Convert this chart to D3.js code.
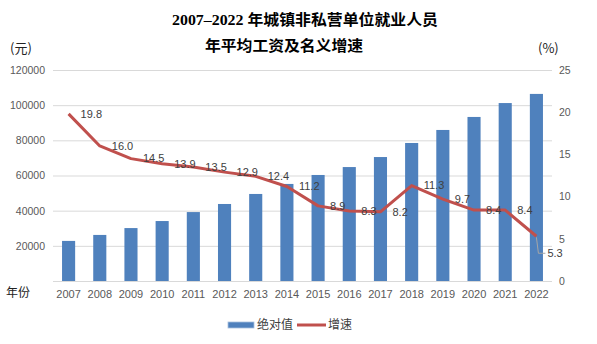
<!DOCTYPE html>
<html>
<head>
<meta charset="utf-8">
<script src="https://cdn.jsdelivr.net/npm/d3@7"></script>
<style>
  body { margin: 0; background: #fff; }
  svg { display: block; font-family: "Noto Sans CJK SC", "Liberation Sans", sans-serif; }
</style>
</head>
<body>
<div id="chart"></div>
<script>
//
// DATA
//
const years = ['2007', '2008', '2009', '2010', '2011', '2012', '2013', '2014',
    '2015', '2016', '2017', '2018', '2019', '2020', '2021', '2022']
// average wage (yuan)
const wages = [22800, 26200, 30100, 34100, 39200, 43800, 49500, 55200,
    60300, 64800, 70500, 78500, 85900, 93300, 101200, 106400]
// nominal growth (%)
const growth = [19.8, 16.0, 14.5, 13.9, 13.5, 12.9, 12.4, 11.2,
    8.9, 8.3, 8.2, 11.3, 9.7, 8.4, 8.4, 5.3]
const leftTicks = [0, 20000, 40000, 60000, 80000, 100000, 120000]
const rightTicks = [0, 5, 10, 15, 20, 25]

//
// GLOBALS
//
const width = 597
const height = 344
const plot = { left: 53, right: 552, top: 70, bottom: 281 }
const barColor = '#4F81BD'
const lineColor = '#C0504D'
const axisColor = '#595959'

const svg = d3.select('#chart').append('svg')
    .attr('width', width)
    .attr('height', height)

// scales
const x = d3.scaleBand()
    .domain(years)
    .range([plot.left, plot.right])
    .paddingInner(0.58)
    .paddingOuter(0.29)
const yLeft = d3.scaleLinear().domain([0, 120000]).range([plot.bottom, plot.top])
const yRight = d3.scaleLinear().domain([0, 25]).range([plot.bottom, plot.top])

// title (two lines)
const title = svg.append('g')
    .style('font-family', '"Liberation Serif", "Noto Sans CJK SC", serif')
    .style('font-weight', 'bold')
    .style('font-size', '15px')
    .attr('fill', '#000')
title.append('text')
    .attr('x', 172).attr('y', 25)
    .attr('textLength', 266).attr('lengthAdjust', 'spacingAndGlyphs')
    .text('2007–2022 年城镇非私营单位就业人员')
title.append('text')
    .attr('x', 205).attr('y', 51)
    .attr('textLength', 158).attr('lengthAdjust', 'spacingAndGlyphs')
    .text('年平均工资及名义增速')

// unit labels
svg.append('text').attr('x', 10).attr('y', 53)
    .style('font-size', '13px').attr('fill', '#222').text('(元)')
svg.append('text').attr('x', 538).attr('y', 53)
    .style('font-size', '13px').attr('fill', '#222').text('(%)')
svg.append('text').attr('x', 6).attr('y', 297)
    .style('font-size', '12px').attr('fill', '#222').text('年份')

// gridlines
svg.append('g').selectAll('line')
    .data(leftTicks)
    .join('line')
    .attr('x1', plot.left).attr('x2', plot.right)
    .attr('y1', d => yLeft(d) + 0.5).attr('y2', d => yLeft(d) + 0.5)
    .attr('stroke', '#D9D9D9')
    .attr('stroke-width', 1)

// axes
const styleAxis = (g) => {
    g.select('.domain').remove()
    g.selectAll('text')
        .style('font-family', '"Liberation Sans", sans-serif')
        .style('font-size', '10.5px')
        .attr('fill', axisColor)
}
svg.append('g')
    .attr('transform', `translate(${plot.left},0)`)
    .call(d3.axisLeft(yLeft).tickValues(leftTicks.filter(d => d > 0))
        .tickFormat(d3.format('d')).tickSize(0).tickPadding(8))
    .call(styleAxis)
svg.append('g')
    .attr('transform', `translate(${plot.right},0)`)
    .call(d3.axisRight(yRight).tickValues(rightTicks).tickSize(0).tickPadding(7))
    .call(styleAxis)
svg.append('g')
    .attr('transform', `translate(0,${plot.bottom})`)
    .call(d3.axisBottom(x).tickSize(0).tickPadding(9))
    .call(styleAxis)
    .call(g => g.selectAll('text').style('font-size', '11px'))

// bars
svg.append('g').selectAll('rect')
    .data(wages)
    .join('rect')
    .attr('x', (d, i) => x(years[i]))
    .attr('y', d => yLeft(d))
    .attr('width', x.bandwidth())
    .attr('height', d => plot.bottom - yLeft(d))
    .attr('fill', barColor)

// growth line
const cx = (i) => x(years[i]) + x.bandwidth() / 2
const line = d3.line()
    .x((d, i) => cx(i))
    .y(d => yRight(d))
svg.append('path')
    .datum(growth)
    .attr('d', line)
    .attr('fill', 'none')
    .attr('stroke', lineColor)
    .attr('stroke-width', 3)
    .attr('stroke-linejoin', 'round')

// data labels, placed to the right of each point
const last = growth.length - 1
svg.append('g').selectAll('text')
    .data(growth.slice(0, last))
    .join('text')
    .attr('x', (d, i) => cx(i) + 12)
    .attr('y', d => yRight(d))
    .attr('dy', '0.35em')
    .style('font-family', '"Liberation Sans", sans-serif')
    .style('font-size', '11px')
    .attr('fill', '#404040')
    .text(d => d.toFixed(1))

// the last label was dragged down, with a leader line
const lx = cx(last)
const ly = yRight(growth[last])
svg.append('path')
    .attr('d', `M${lx},${ly + 1}L${lx + 2},${ly + 17}L${lx + 9},${ly + 17}`)
    .attr('fill', 'none')
    .attr('stroke', '#A6A6A6')
    .attr('stroke-width', 1)
svg.append('text')
    .attr('x', lx + 11).attr('y', ly + 17).attr('dy', '0.35em')
    .style('font-family', '"Liberation Sans", sans-serif')
    .style('font-size', '11px')
    .attr('fill', '#404040')
    .text(growth[last].toFixed(1))

// legend
const legend = svg.append('g').style('font-size', '12px').attr('fill', '#404040')
legend.append('rect')
    .attr('x', 228).attr('y', 322).attr('width', 26).attr('height', 6)
    .attr('fill', barColor).attr('stroke', '#A9C0DE').attr('stroke-width', 0.8)
legend.append('text').attr('x', 257).attr('y', 325).attr('dy', '0.35em').text('绝对值')
legend.append('line')
    .attr('x1', 297).attr('x2', 326).attr('y1', 325).attr('y2', 325)
    .attr('stroke', lineColor).attr('stroke-width', 3)
legend.append('text').attr('x', 328).attr('y', 325).attr('dy', '0.35em').text('增速')
</script>
</body>
</html>
